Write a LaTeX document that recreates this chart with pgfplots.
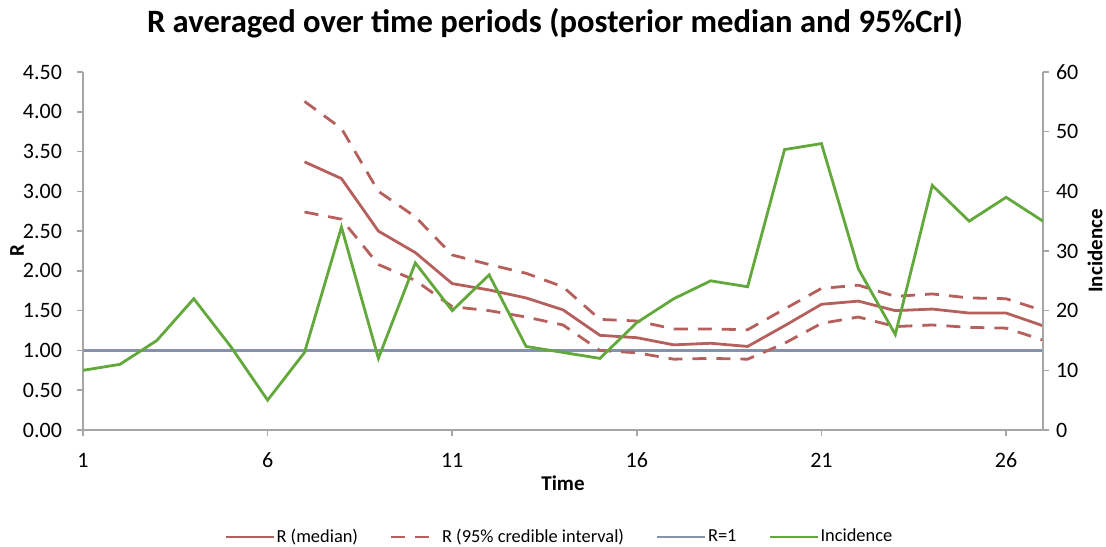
\documentclass[border=0pt]{standalone}
\usepackage{fontspec}
\setmainfont{Carlito}
\usepackage{pgfplots}
\pgfplotsset{compat=1.18}
\usetikzlibrary{calc}

\definecolor{rmed}{HTML}{B5605D}
\definecolor{rone}{HTML}{8592AD}
\definecolor{inc}{HTML}{62A83A}
\definecolor{axgray}{HTML}{A6A6A6}

\begin{document}
\begin{tikzpicture}[font=\fontsize{10.5}{12}\selectfont]
\pgfplotsset{
  common/.style={
    scale only axis, width=480pt, height=179pt,
    xmin=1, xmax=27,
    axis line style={draw=axgray, line width=0.8pt, -},
    tick style={draw=axgray, line width=0.8pt},
    tick align=outside, major tick length=3pt,
    /pgf/number format/assume math mode=true,
    ticklabel style={font=\fontsize{11}{13}\selectfont},
  }
}
% Left axis: reproduction number R
\begin{axis}[common, name=ax,
  axis x line*=bottom, axis y line*=left,
  ymin=0, ymax=4.5, ytick={0,0.5,...,4.5},
  yticklabel style={/pgf/number format/fixed, /pgf/number format/fixed zerofill,
    /pgf/number format/precision=2, xshift=-4pt},
  xtick={1,6,11,16,21,26},
  xticklabel style={yshift=-5pt},
  xlabel={\bfseries Time},
  xlabel style={at={(axis description cs:0.5,0)}, anchor=center, yshift=-26.5pt},
  ylabel={\bfseries R},
  ylabel style={at={(axis description cs:0,0.5)}, anchor=center, yshift=33pt},
  title={\fontsize{16.3}{19}\selectfont\bfseries R averaged over time periods (posterior median and 95\%CrI)},
  title style={at={(axis description cs:0.5,1)}, anchor=center, yshift=18.5pt, xshift=-4pt},
]
% R = 1 reference
\addplot[rone, line width=1.4pt] coordinates {(1,1) (27,1)};
% upper and lower 95% credible bounds
\addplot[rmed, line width=1.4pt, dash pattern=on 7pt off 5pt] coordinates {
 (7,4.13) (8,3.79) (9,3.00) (10,2.68) (11,2.20) (12,2.08) (13,1.97) (14,1.80)
 (15,1.39) (16,1.37) (17,1.27) (18,1.27) (19,1.26) (20,1.52) (21,1.78) (22,1.82)
 (23,1.68) (24,1.71) (25,1.66) (26,1.65) (27,1.50)};
\addplot[rmed, line width=1.4pt, dash pattern=on 7pt off 5pt] coordinates {
 (7,2.74) (8,2.65) (9,2.08) (10,1.88) (11,1.55) (12,1.50) (13,1.42) (14,1.32)
 (15,1.00) (16,0.97) (17,0.89) (18,0.90) (19,0.89) (20,1.09) (21,1.34) (22,1.42)
 (23,1.30) (24,1.32) (25,1.29) (26,1.28) (27,1.13)};
% posterior median
\addplot[rmed, line width=1.4pt] coordinates {
 (7,3.37) (8,3.16) (9,2.50) (10,2.23) (11,1.84) (12,1.76) (13,1.66) (14,1.51)
 (15,1.19) (16,1.16) (17,1.07) (18,1.09) (19,1.05) (20,1.31) (21,1.58) (22,1.62)
 (23,1.50) (24,1.52) (25,1.47) (26,1.47) (27,1.31)};
\end{axis}
% Right axis: incidence
\begin{axis}[common,
  axis x line=none, axis y line*=right,
  ymin=0, ymax=60, ytick={0,10,...,60},
  ylabel={\bfseries Incidence},
  ylabel style={at={(axis description cs:1,0.5)}, anchor=center, yshift=-26pt},
  legend columns=4,
  legend style={draw=none, fill=none, at={(axis description cs:0.5,0)}, anchor=center,
    yshift=-53.5pt, xshift=-2pt,
    font=\fontsize{9.2}{11}\selectfont,
    nodes={inner xsep=0.8pt},
    /tikz/every even column/.append style={column sep=15pt}},
  legend image code/.code={\draw[#1] (0pt,0pt) -- (24pt,0pt);},
]
\addlegendimage{rmed, line width=1.4pt}
\addlegendentry{R (median)}
\addlegendimage{rmed, line width=1.4pt, dash pattern=on 7pt off 5pt}
\addlegendentry{R (95\% credible interval)}
\addlegendimage{rone, line width=1.4pt}
\addlegendentry{R=1}
\addplot[inc, line width=1.4pt] coordinates {
 (1,10) (2,11) (3,15) (4,22) (5,14) (6,5) (7,13) (8,34) (9,12) (10,28)
 (11,20) (12,26) (13,14) (14,13) (15,12) (16,18) (17,22) (18,25) (19,24) (20,47)
 (21,48) (22,27) (23,16) (24,41) (25,35) (26,39) (27,35)};
\addlegendentry{Incidence}
\end{axis}
\pgfresetboundingbox
\path ($(ax.south west)+(-41.5pt,-58.5pt)$) rectangle ($(ax.north east)+(31.5pt,36pt)$);
\end{tikzpicture}
\end{document}
